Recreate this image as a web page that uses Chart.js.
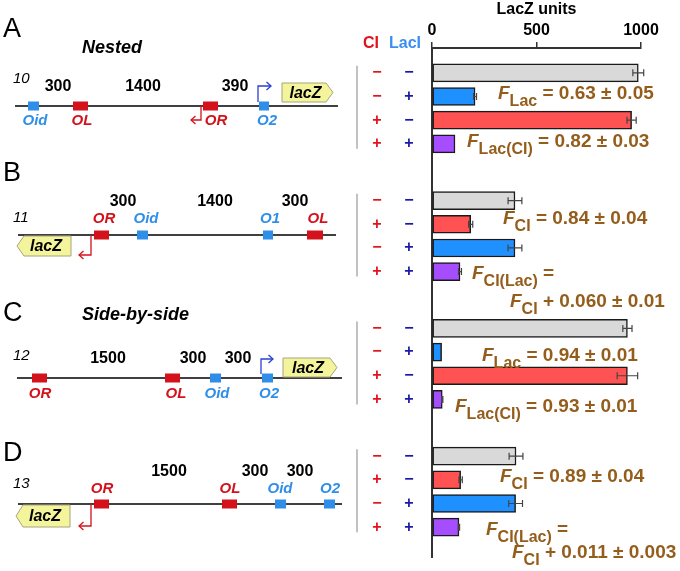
<!DOCTYPE html>
<html>
<head>
<meta charset="utf-8">
<script src="https://cdn.jsdelivr.net/npm/chart.js@4.4.1/dist/chart.umd.min.js"></script>
<style>
  html, body { margin: 0; padding: 0; background: #fff; }
</style>
</head>
<body>
<canvas id="chart" width="680" height="571"></canvas>
<script>
// ---- data ----
const panels = ['A', 'B', 'C', 'D'];
const ciRows  = [['−', '−', '+', '+'], ['−', '+', '−', '+'], ['−', '−', '+', '+'], ['−', '+', '−', '+']];
const lacRows = [['−', '+', '−', '+'], ['−', '−', '+', '+'], ['−', '+', '−', '+'], ['−', '−', '+', '+']];
const lacZUnits = [[987, 206, 955, 110], [397, 185, 397, 134], [935, 46, 935, 49], [402, 137, 400, 129]];
const lacZErr   = [[26, 7, 22, 0], [33, 10, 33, 7], [22, 0, 49, 3], [33, 8, 33, 3]];
const xTicks = [0, 500, 1000];

const FONT = '"Liberation Sans", Arial, Helvetica, sans-serif';
const RED = '#d3121c', BLUE = '#2f8fe8', NAVY = '#1a1aa8', PROM_BLUE = '#2a3fcf', BROWN = '#955d1c';
const condColor = { '−−': '#d9d9d9', '−+': '#1e90ff', '+−': '#ff5252', '++': '#a64dff' };

const groupStep = 5.4; // rows per panel incl. the gap between panels

const points = [], colors = [], errs = [];
panels.forEach((p, g) => {
    lacZUnits[g].forEach((v, r) => {
        points.push({ x: v, y: g * groupStep + r });
        colors.push(condColor[ciRows[g][r] + lacRows[g][r]]);
        errs.push(lacZErr[g][r]);
    });
});

// ---- small drawing helpers for the schematic side ----
function txt(ctx, s, x, y, font, color, align = 'center') {
    ctx.font = font; ctx.fillStyle = color;
    ctx.textAlign = align; ctx.textBaseline = 'middle';
    ctx.fillText(s, x, y);
}
function site(ctx, x1, x2, y, color) {
    ctx.fillStyle = color;
    ctx.fillRect(x1, y - 4.5, x2 - x1, 9);
}
function lacZBox(ctx, x1, x2, y1, y2, dir) {
    const tip = 7, ym = (y1 + y2) / 2;
    ctx.beginPath();
    if (dir > 0) {
        ctx.moveTo(x1, y1); ctx.lineTo(x2 - tip, y1); ctx.lineTo(x2, ym);
        ctx.lineTo(x2 - tip, y2); ctx.lineTo(x1, y2);
    } else {
        ctx.moveTo(x2, y1); ctx.lineTo(x1 + tip, y1); ctx.lineTo(x1, ym);
        ctx.lineTo(x1 + tip, y2); ctx.lineTo(x2, y2);
    }
    ctx.closePath();
    ctx.fillStyle = '#f4f49c'; ctx.fill();
    ctx.strokeStyle = '#a5a57a'; ctx.lineWidth = 1; ctx.stroke();
    txt(ctx, 'lacZ', (x1 + x2) / 2 - dir * 2, ym + 1, `italic bold 16px ${FONT}`, '#000');
}
function promoter(ctx, x, y0, y1, x2, color) {
    const d = Math.sign(x2 - x);
    ctx.strokeStyle = color; ctx.lineWidth = 1.3;
    ctx.beginPath(); ctx.moveTo(x, y0); ctx.lineTo(x, y1); ctx.lineTo(x2, y1); ctx.stroke();
    ctx.beginPath(); ctx.moveTo(x2 - d * 4.5, y1 - 4); ctx.lineTo(x2, y1); ctx.lineTo(x2 - d * 4.5, y1 + 4); ctx.stroke();
}
function fLabel(ctx, x, y, sub, rest) {
    ctx.fillStyle = BROWN; ctx.textAlign = 'left'; ctx.textBaseline = 'alphabetic';
    ctx.font = `italic bold 19px ${FONT}`; ctx.fillText('F', x, y);
    x += ctx.measureText('F').width;
    ctx.font = `bold 16px ${FONT}`; ctx.fillText(sub, x, y + 7);
    x += ctx.measureText(sub).width;
    ctx.font = `bold 19px ${FONT}`; ctx.fillText(rest, x, y);
}

// construct layouts (left side), pixel positions of the drawing
const diagrams = [
    { letter: 'A', ly: 30, title: 'Nested', ty: 48, id: '10', idy: 79, line: [15, 338, 106],
      sites: [['Oid', 28, 39, BLUE, 35, 121], ['OL', 73, 88, RED, 82, 121], ['OR', 203, 218, RED, 216, 121], ['O2', 259, 269, BLUE, 267, 121]],
      gaps: [['300', 58], ['1400', 143], ['390', 235]], gy: 87,
      lacZ: [282, 333, 83, 102, 1],
      proms: [[258, 102, 86, 271, PROM_BLUE], [201, 106, 120, 191, RED]] },
    { letter: 'B', ly: 174, id: '11', idy: 218, line: [18, 336, 235],
      sites: [['OR', 94, 109, RED, 104, 219], ['Oid', 137, 148, BLUE, 146, 219], ['O1', 263, 273, BLUE, 270, 219], ['OL', 307, 323, RED, 318, 219]],
      gaps: [['300', 123], ['1400', 215], ['300', 295]], gy: 202,
      lacZ: [17, 71, 236, 256, -1],
      proms: [[91, 235, 255, 79, RED]] },
    { letter: 'C', ly: 314, title: 'Side-by-side', ty: 315, id: '12', idy: 356, line: [17, 342, 378],
      sites: [['OR', 32, 47, RED, 40, 394], ['OL', 165, 180, RED, 176, 394], ['Oid', 210, 221, BLUE, 217, 394], ['O2', 262, 273, BLUE, 269, 394]],
      gaps: [['1500', 108], ['300', 193], ['300', 238]], gy: 359,
      lacZ: [283, 337, 358, 377, 1],
      proms: [[261, 374, 359, 273, PROM_BLUE]] },
    { letter: 'D', ly: 454, id: '13', idy: 484, line: [18, 342, 504],
      sites: [['OR', 94, 109, RED, 102, 489], ['OL', 222, 237, RED, 230, 489], ['Oid', 275, 286, BLUE, 280, 489], ['O2', 324, 335, BLUE, 330, 489]],
      gaps: [['1500', 169], ['300', 255], ['300', 300]], gy: 472,
      lacZ: [16, 70, 505, 527, -1],
      proms: [[91, 504, 526, 79, RED]] }
];

const fNotes = [
    [498, 99, 'Lac', ' = 0.63 ± 0.05'],
    [467, 147, 'Lac(CI)', ' = 0.82 ± 0.03'],
    [503, 224, 'CI', ' = 0.84 ± 0.04'],
    [472, 279, 'CI(Lac)', ' ='],
    [510, 307, 'CI', ' + 0.060 ± 0.01'],
    [482, 361, 'Lac', ' = 0.94 ± 0.01'],
    [455, 412, 'Lac(CI)', ' = 0.93 ± 0.01'],
    [500, 482, 'CI', ' = 0.89 ± 0.04'],
    [486, 535, 'CI(Lac)', ' ='],
    [512, 558, 'CI', ' + 0.011 ± 0.003']
];

const errorBars = {
    id: 'errorBars',
    afterDatasetsDraw(chart) {
        const { ctx, scales: { x } } = chart;
        ctx.save();
        ctx.strokeStyle = '#444'; ctx.lineWidth = 1.2;
        chart.getDatasetMeta(0).data.forEach((bar, i) => {
            const e = errs[i];
            if (!e) return;
            const v = points[i].x;
            const x1 = x.getPixelForValue(v - e), x2 = x.getPixelForValue(v + e), y = bar.y;
            ctx.beginPath();
            ctx.moveTo(x1, y); ctx.lineTo(x2, y);
            ctx.moveTo(x1, y - 3.5); ctx.lineTo(x1, y + 3.5);
            ctx.moveTo(x2, y - 3.5); ctx.lineTo(x2, y + 3.5);
            ctx.stroke();
        });
        ctx.restore();
    }
};

const schematic = {
    id: 'schematic',
    afterDraw(chart) {
        const { ctx, scales: { y } } = chart;
        ctx.save();
        // genotype columns
        txt(ctx, 'CI', 371, 44, `bold 16px ${FONT}`, '#e0141e');
        txt(ctx, 'LacI', 405, 44, `bold 16px ${FONT}`, '#3a8ff0');
        panels.forEach((p, g) => {
            const top = y.getPixelForValue(g * groupStep), bot = y.getPixelForValue(g * groupStep + 3);
            ctx.strokeStyle = '#999'; ctx.lineWidth = 1.2;
            ctx.beginPath(); ctx.moveTo(357, top - 7); ctx.lineTo(357, bot + 5); ctx.stroke();
            for (let r = 0; r < 4; r++) {
                const py = y.getPixelForValue(g * groupStep + r);
                txt(ctx, ciRows[g][r], 377, py, `bold 16px ${FONT}`, '#e0141e');
                txt(ctx, lacRows[g][r], 409, py, `bold 16px ${FONT}`, NAVY);
            }
        });
        // constructs
        diagrams.forEach(d => {
            txt(ctx, d.letter, 3, d.ly, `27px ${FONT}`, '#000', 'left');
            if (d.title) txt(ctx, d.title, 82, d.ty, `italic bold 18px ${FONT}`, '#000', 'left');
            txt(ctx, d.id, 13, d.idy, `italic 15px ${FONT}`, '#000', 'left');
            d.gaps.forEach(([s, gx]) => txt(ctx, s, gx, d.gy, `bold 16px ${FONT}`, '#000'));
            const [lx1, lx2, ly] = d.line;
            ctx.strokeStyle = '#000'; ctx.lineWidth = 1.3;
            ctx.beginPath(); ctx.moveTo(lx1, ly); ctx.lineTo(lx2, ly); ctx.stroke();
            d.proms.forEach(pr => promoter(ctx, ...pr));
            d.sites.forEach(([name, x1, x2, c, tx, tyy]) => {
                site(ctx, x1, x2, ly, c);
                txt(ctx, name, tx, tyy, `italic bold 15px ${FONT}`, c);
            });
            lacZBox(ctx, ...d.lacZ);
        });
        fNotes.forEach(n => fLabel(ctx, ...n));
        ctx.restore();
    }
};

new Chart(document.getElementById('chart'), {
    type: 'bar',
    data: {
        datasets: [{
            data: points,
            backgroundColor: colors,
            borderColor: '#1a1a1a',
            borderWidth: 1.5,
            borderSkipped: false,
            barThickness: 18
        }]
    },
    plugins: [errorBars, schematic],
    options: {
        indexAxis: 'y',
        responsive: false,
        animation: false,
        layout: { padding: { left: 432, right: 39, top: 0, bottom: 14 } },
        plugins: { legend: { display: false }, tooltip: { enabled: false } },
        scales: {
            x: {
                type: 'linear', position: 'top', min: 0, max: 1000,
                afterBuildTicks: s => { s.ticks = xTicks.map(v => ({ value: v })); },
                ticks: { color: '#000', padding: 3, callback: v => String(v),
                         font: { family: FONT, size: 16, weight: 'bold', lineHeight: 1 } },
                grid: { display: true, drawOnChartArea: false, drawTicks: true, tickLength: 6, color: '#333', lineWidth: 1.5 },
                border: { display: true, color: '#333', width: 2 },
                title: { display: true, text: 'LacZ units', color: '#000', padding: { top: 2, bottom: 2 },
                         font: { family: FONT, size: 16, weight: 'bold', lineHeight: 1 } }
            },
            y: {
                type: 'linear', reverse: true, offset: false, min: -1.05, max: 3 * groupStep + 3 + 1.26,
                ticks: { display: false },
                grid: { display: false, drawTicks: false, offset: false },
                border: { display: true, color: '#333', width: 2 },
                afterFit: s => { s.width = 0; }
            }
        }
    }
});
</script>
</body>
</html>
